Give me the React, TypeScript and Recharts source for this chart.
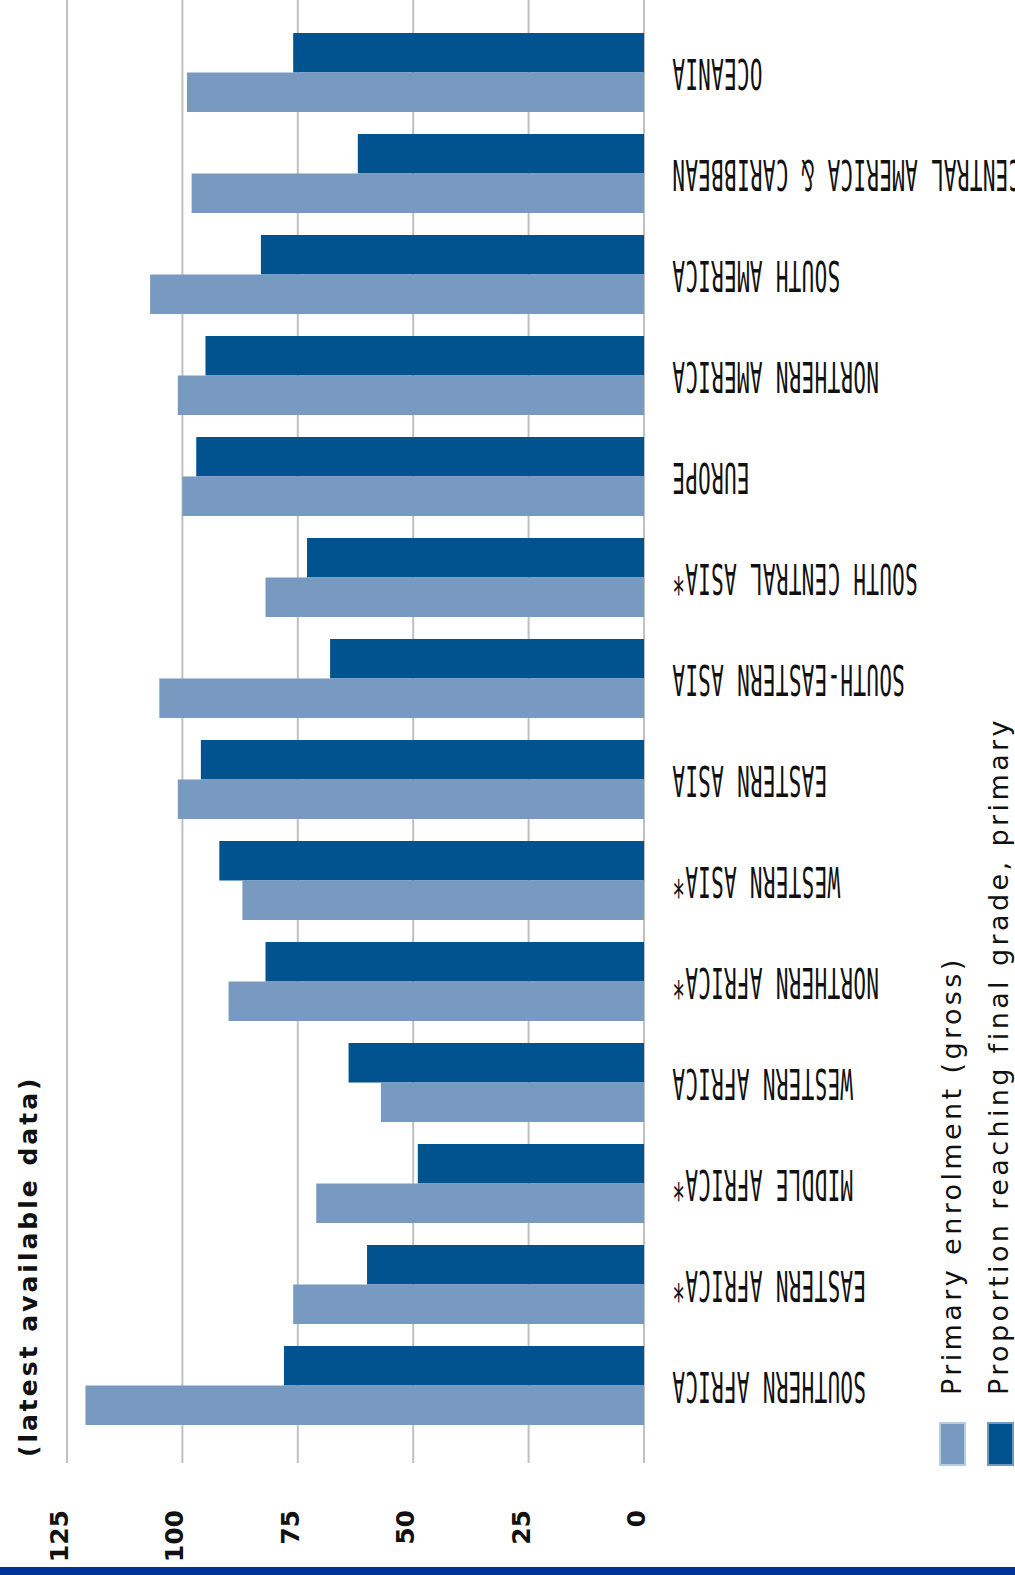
import React from "react";
import { BarChart, Bar, XAxis, YAxis, CartesianGrid, Legend } from "recharts";

const REGIONS = [
  "OCEANIA",
  "CENTRAL AMERICA & CARIBBEAN",
  "SOUTH AMERICA",
  "NORTHERN AMERICA",
  "EUROPE",
  "SOUTH CENTRAL ASIA*",
  "SOUTH-EASTERN ASIA",
  "EASTERN ASIA",
  "WESTERN ASIA*",
  "NORTHERN AFRICA*",
  "WESTERN AFRICA",
  "MIDDLE AFRICA*",
  "EASTERN AFRICA*",
  "SOUTHERN AFRICA",
];
const ENROLMENT = [99, 98, 107, 101, 100, 82, 105, 101, 87, 90, 57, 71, 76, 121];
const FINAL_GRADE = [76, 62, 83, 95, 97, 73, 68, 96, 92, 82, 64, 49, 60, 78];
const VALUE_TICKS = [0, 25, 50, 75, 100, 125];

const TITLE = "(latest available data)";
const ENROLMENT_NAME = "Primary enrolment (gross)";
const FINAL_GRADE_NAME = "Proportion reaching final grade, primary";
const LEGEND_ORDER = [ENROLMENT_NAME, FINAL_GRADE_NAME];

const LIGHT = "#789ac1";
const DARK = "#01538f";
const GRID = "#c0c0c0";
const INK = "#111";
const STRIP = "#00339a";

const data = REGIONS.map((region, i) => ({
  region,
  enrolment: ENROLMENT[i],
  finalGrade: FINAL_GRADE[i],
}));

// value labels read bottom-to-top
function ValueTick({ x, y, payload }: any) {
  return (
    <text
      transform={`translate(${x},${y}) rotate(-90)`}
      textAnchor="end"
      dy={1}
      fontFamily="DejaVu Sans"
      fontWeight="bold"
      fontSize={25}
      fill={INK}
    >
      {payload.value}
    </text>
  );
}

// region labels are upside down and stretched
function RegionTick({ x, y, payload }: any) {
  return (
    <g transform={`translate(${x},${y + 2}) scale(-1,-2)`}>
      <text
        textAnchor="end"
        dy="0.36em"
        fontFamily="DejaVu Sans Mono"
        fontSize={21}
        letterSpacing={0.3}
        fill={INK}
      >
        {payload.value}
      </text>
    </g>
  );
}

function Overlay({ payload }: any) {
  const items = LEGEND_ORDER.map((name) =>
    (payload ?? []).find((p: any) => p.value === name)
  ).filter(Boolean);
  return (
    <div style={{ position: "relative", width: 0, height: 0 }}>
      <svg
        width={1015}
        height={1575}
        style={{ position: "absolute", left: 0, top: 0, overflow: "visible" }}
      >
        <text
          transform="translate(37,1457) rotate(-90)"
          fontFamily="DejaVu Sans"
          fontWeight="bold"
          fontSize={25}
          letterSpacing={3}
          fill={INK}
        >
          {TITLE}
        </text>
        {items.map((item: any, i: number) => (
          <g key={item.value}>
            <rect
              x={940 + i * 48}
              y={1423}
              width={25}
              height={42}
              fill={item.color}
              stroke={i === 0 ? "#b9cde2" : "#6f99c0"}
              strokeWidth={2}
            />
            <text
              transform={`translate(${961 + i * 47},1395) rotate(-90)`}
              fontFamily="DejaVu Sans"
              fontSize={27}
              letterSpacing={3.4}
              fill={INK}
            >
              {item.value}
            </text>
          </g>
        ))}
      </svg>
    </div>
  );
}

export default function App() {
  return (
    <div
      style={{
        position: "absolute",
        left: 0,
        top: 0,
        width: 1015,
        height: 1575,
        background: "#fff",
        overflow: "hidden",
      }}
    >
      <BarChart
        width={1015}
        height={1575}
        layout="vertical"
        data={data}
        margin={{ top: 0, right: 0, bottom: 0, left: 67 }}
        barGap={0}
      >
        <CartesianGrid horizontal={false} stroke={GRID} strokeWidth={2} />
        <XAxis
          type="number"
          domain={[0, 125]}
          ticks={VALUE_TICKS}
          reversed
          interval={0}
          axisLine={false}
          tickLine={false}
          tickSize={0}
          tickMargin={47}
          height={112}
          tick={<ValueTick />}
        />
        <YAxis
          type="category"
          dataKey="region"
          orientation="right"
          width={371}
          interval={0}
          axisLine={false}
          tickLine={false}
          tickSize={0}
          tickMargin={28}
          padding={{ top: 22, bottom: 27 }}
          tick={<RegionTick />}
        />
        <Legend
          content={<Overlay />}
          wrapperStyle={{ position: "absolute", left: 0, top: 0, width: 0, height: 0 }}
        />
        <Bar
          dataKey="finalGrade"
          name={FINAL_GRADE_NAME}
          fill={DARK}
          barSize={39.5}
          isAnimationActive={false}
        />
        <Bar
          dataKey="enrolment"
          name={ENROLMENT_NAME}
          fill={LIGHT}
          barSize={39.5}
          isAnimationActive={false}
        />
      </BarChart>
      <div
        style={{
          position: "absolute",
          left: 0,
          top: 1567,
          width: 1015,
          height: 8,
          background: STRIP,
        }}
      />
    </div>
  );
}
